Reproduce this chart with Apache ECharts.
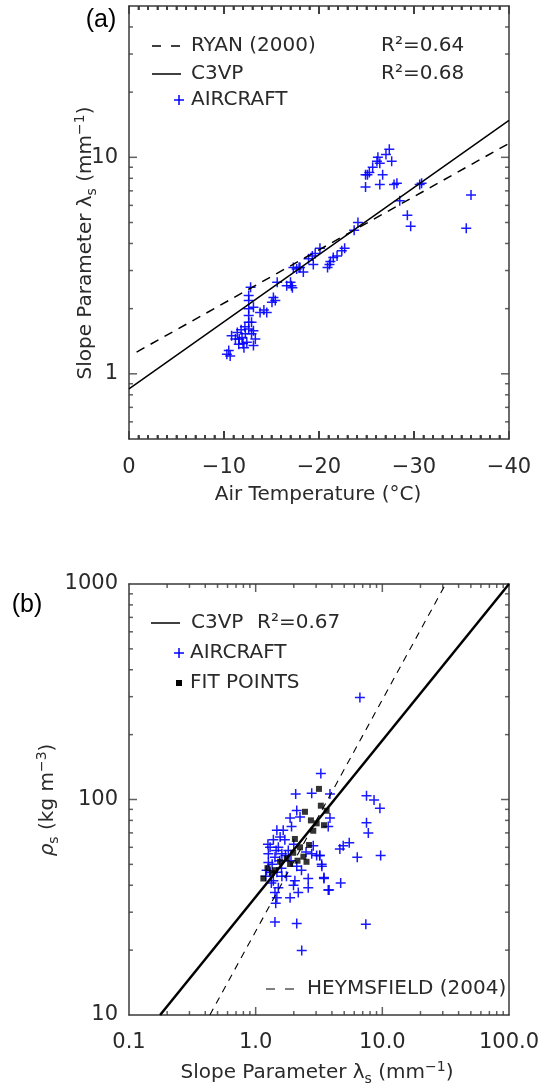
<!DOCTYPE html>
<html><head><meta charset="utf-8">
<script src="https://cdn.jsdelivr.net/npm/echarts@6/dist/echarts.min.js"></script>
<style>html,body{margin:0;padding:0;background:#fff}#c{width:545px;height:1091px}</style>
</head><body><div id="c"></div>
<script>
// ---------- Panel (a): slope parameter vs temperature ----------
const tempTicks = [0, -10, -20, -30, -40];
const tempMajorInner = [-10, -20, -30];
const tempMinor = [];
for (let t = -1; t > -40; t--) { if (t % 10 !== 0) tempMinor.push(t); }
const lambdaMajorA = [1, 10];
const lambdaMinorA = [0.6, 0.7, 0.8, 0.9, 2, 3, 4, 5, 6, 7, 8, 9, 20, 30, 40];
const aircraftA = [
  [-27.4,10.9],[-27.05,10.3],[-27.65,9.6],[-26.2,10.0],[-26.1,9.6],[-26.4,9.4],[-25.65,9.0],[-25.3,8.5],
  [-25.1,8.3],[-24.9,8.3],[-26.7,8.3],[-24.9,7.3],[-26.4,7.5],[-27.9,7.5],[-28.2,7.6],[-30.6,7.5],
  [-30.8,7.6],[-28.5,6.3],[-29.3,5.4],[-29.65,4.8],[-36.0,6.7],[-35.5,4.7],
  [-24.1,5.0],[-23.7,4.6],[-22.7,3.8],[-22.4,3.7],[-21.9,3.5],[-21.5,3.45],[-21.2,3.3],[-21.1,3.2],
  [-20.9,3.1],[-20.1,3.8],[-19.6,3.6],[-19.3,3.5],[-18.9,3.4],[-19.4,3.2],[-18.0,3.1],[-17.65,3.05],
  [-18.35,2.95],[-17.1,2.55],[-17.9,3.1],[-17.3,3.1],[-17.0,2.65],[-16.6,2.55],[-17.2,2.5],[-15.6,2.65],
  [-15.2,2.25],[-15.05,2.14],[-15.4,2.18],[-14.2,1.97],[-13.8,1.92],[-14.5,1.92],[-13.1,2.03],
  [-12.8,2.51],[-12.6,2.30],[-12.6,2.18],[-12.6,2.0],[-12.6,1.86],[-12.6,1.73],[-12.6,1.61],
  [-12.25,1.53],[-12.9,1.53],[-11.9,1.47],[-11.4,1.55],[-11.2,1.45],[-10.8,1.5],[-11.55,1.37],
  [-12.4,1.4],[-13.1,1.35],[-12.1,1.32],[-12.9,1.73],[-13.1,1.58],[-10.5,1.28],[-10.65,1.21],
  [-10.3,1.23],[-11.8,1.6],[-12.2,1.65],[-13.3,1.45],[-11.6,1.45],[-12.0,1.38]
];
const ryanLine = [[-0.8, 1.26], [-40, 11.6]];
const c3vpLineA = [[0, 0.853], [-40, 14.8]];

// ---------- Panel (b): density vs slope parameter ----------
const lambdaMajorB = [1, 10];
const lambdaMinorB = [0.2,0.3,0.4,0.5,0.6,0.7,0.8,0.9,2,3,4,5,6,7,8,9,20,30,40,50,60,70,80,90];
const rhoMajorB = [100];
const rhoMinorB = [20,30,40,50,60,70,80,90,200,300,400,500,600,700,800,900];
const aircraftB = [
  [3.27,132],[2.07,106],[2.77,107],[3.86,106],[2.11,89],[1.87,82],[1.92,75],[2.24,83],[3.86,82],
  [3.74,75],[1.47,72],[1.65,72],[1.56,67],[1.38,65],[1.70,65],[1.51,60],[1.30,60],[1.81,58],
  [1.26,56],[1.42,54],[1.61,56],[2.77,56],[3.03,55],[3.21,55],[2.85,61],[3.32,50],[2.11,49],
  [1.26,51],[1.30,46],[1.47,46],[1.61,44],[1.38,42],[2.04,42],[2.60,43],[3.46,43],[1.99,40],
  [1.51,39],[1.42,37],[2.17,37],[1.87,35],[1.47,35],[2.60,39],[3.74,38],[1.44,33],[1.42,27],
  [2.11,26.6],[2.31,19.9],
  [6.65,297],[7.5,104],[8.6,99.6],[9.57,91],[7.5,78],[7.75,70],[9.7,55],[6.34,54],[5.48,63],
  [4.91,61],[4.62,59],[4.69,41],[7.41,26.4],[3.33,49],[3.46,43.5],[3.8,38],[3.2,55],
  [1.22,47],[1.35,50],[1.25,62],[1.55,52],[1.45,58],[1.33,41],[1.6,48],[1.72,55],[1.2,44],
  [1.9,52],[2.3,47],[2.5,57],[2.0,62],[1.75,44]
];
const fitB = [
  [3.16,112],[3.27,93.6],[3.63,88.7],[2.45,87.7],[2.73,80],[3.03,77.5],[3.46,76],[2.85,71.6],
  [2.04,65.6],[2.64,61.5],[2.24,60],[1.98,56.6],[2.38,54.3],[1.76,53.3],[2.14,52],[2.52,51.4],
  [1.56,51.4],[1.87,50.2],[1.24,48],[1.34,45.7],[1.42,47],[1.15,43]
];
const c3vpLineB = [[0.176, 10], [100, 1000]];
const heymsLine = [[0.435, 10], [31.6, 1000]];

// ---------- styling ----------
const FONT = 'DejaVu Sans';
const TC = '#2a2a2a';
const AX = '#3a3a3a';
const PLUS = 'path://M4.25,0h1.5v4.25h4.25v1.5h-4.25v4.25h-1.5v-4.25h-4.25v-1.5h4.25z';
const isPow10 = v => Math.abs(Math.log10(v) - Math.round(Math.log10(v))) < 1e-6;

// inward tick marks, drawn as thin rect symbols at the frame edges
function yTickItems(xLeft, xRight, major, minor) {
  const out = [];
  const add = (v, len) => {
    out.push({ value: [xLeft, v], symbolSize: [len, 1.5], symbolOffset: [len / 2, 0] });
    out.push({ value: [xRight, v], symbolSize: [len, 1.5], symbolOffset: [-len / 2, 0] });
  };
  major.forEach(v => add(v, 8));
  minor.forEach(v => add(v, 4));
  return out;
}
function xTickItems(yBottom, yTop, major, minor) {
  const out = [];
  const add = (v, len) => {
    out.push({ value: [v, yBottom], symbolSize: [1.5, len], symbolOffset: [0, -len / 2] });
    out.push({ value: [v, yTop], symbolSize: [1.5, len], symbolOffset: [0, len / 2] });
  };
  major.forEach(v => add(v, 8));
  minor.forEach(v => add(v, 4));
  return out;
}
const tickSeries = (xi, yi, data) => ({ type: 'scatter', xAxisIndex: xi, yAxisIndex: yi, silent: true,
  symbol: 'rect', clip: false, itemStyle: { color: AX }, data: data, z: 5 });

const lab = () => ({ fontFamily: FONT, fontSize: 21, color: TC });

const tempAxis = (pos, showLabel) => ({
  type: 'value', gridIndex: 0, position: pos, min: -40, max: 0, interval: 10, inverse: true,
  axisLine: { show: true, onZero: false, lineStyle: { color: AX, width: 1.5 } },
  axisTick: { show: true, inside: true, length: 8, lineStyle: { color: AX, width: 1.5 } },
  minorTick: { show: true, splitNumber: 10, length: 4, lineStyle: { color: AX, width: 1.5 } },
  splitLine: { show: false }, minorSplitLine: { show: false },
  axisLabel: Object.assign({ show: showLabel, margin: 18,
    formatter: v => tempTicks.indexOf(v) < 0 ? '' : (v === 0 ? '0' : '\u2212' + Math.abs(v)) }, lab())
});
const logAxis = (grid, pos, min, max, showLabel, fmt, margin) => ({
  type: 'log', logBase: 10, gridIndex: grid, position: pos, min: min, max: max,
  axisLine: { show: true, onZero: false, lineStyle: { color: AX, width: 1.5 } },
  axisTick: { show: false }, minorTick: { show: false },
  splitLine: { show: false }, minorSplitLine: { show: false },
  axisLabel: Object.assign({ show: showLabel, margin: margin, formatter: fmt, showMinLabel: true, showMaxLabel: true }, lab())
});
const yFmt = v => isPow10(v) ? String(Math.round(v)) : '';
const xFmtB = v => isPow10(v) ? Number(v).toFixed(1) : '';

const txt = (x, y, s, extra) => ({ type: 'text', x: x, y: y, silent: true,
  style: Object.assign({ text: s, fill: TC, fontFamily: FONT, fontSize: 20, align: 'left', verticalAlign: 'middle' }, extra || {}) });
const seg = (x1, y1, x2, y2, st) => ({ type: 'line', silent: true, shape: { x1, y1, x2, y2 }, style: Object.assign({ stroke: '#000', lineWidth: 1.5 }, st || {}) });
const plusMark = (cx, cy) => [seg(cx - 5, cy, cx + 5, cy, { stroke: '#0000ff', lineWidth: 1.5 }), seg(cx, cy - 5, cx, cy + 5, { stroke: '#0000ff', lineWidth: 1.5 })];
const richBase = { fill: TC, fontFamily: FONT, fontSize: 20, lineHeight: 26 };
const richSub = { fill: TC, fontFamily: FONT, fontSize: 14, lineHeight: 12, verticalAlign: 'bottom' };
const richSup = { fill: TC, fontFamily: FONT, fontSize: 14, lineHeight: 12, verticalAlign: 'top' };

const baseGraphic = [
  txt(101, 20, '(a)', { fontFamily: 'Liberation Sans', fontSize: 25, align: 'center', fill: '#000' }),
  txt(27, 605, '(b)', { fontFamily: 'Liberation Sans', fontSize: 25, align: 'center', fill: '#000' }),
  // panel (a) legend
  seg(152, 46, 181, 46, { lineDash: [9, 10] }),
  txt(191, 46, 'RYAN (2000)'),
  txt(381, 46, 'R\u00b2=0.64'),
  seg(152, 74, 181, 74),
  txt(191, 74, 'C3VP'),
  txt(381, 74, 'R\u00b2=0.68'),
  ...plusMark(179, 100),
  txt(191, 100, 'AIRCRAFT'),
  // panel (b) legend
  seg(151, 623, 180, 623),
  txt(191, 623, 'C3VP'),
  txt(257, 623, 'R\u00b2=0.67'),
  ...plusMark(179, 653),
  txt(190, 653, 'AIRCRAFT'),
  { type: 'rect', silent: true, shape: { x: 176, y: 680, width: 6, height: 6 }, style: { fill: '#000' } },
  txt(190, 683, 'FIT POINTS'),
  seg(266, 989, 294, 989, { lineWidth: 1.2, lineDash: [9, 10] }),
  txt(307, 989, 'HEYMSFIELD (2004)'),
  // axis titles
  txt(318, 495, 'Air Temperature (\u00b0C)', { align: 'center' }),
  { type: 'text', x: 317, y: 1073, silent: true, style: {
    text: '{t|Slope Parameter \u03bb}{s|s}{t| (mm}{p|\u22121}{t|)}', align: 'center', verticalAlign: 'middle',
    rich: { t: richBase, s: richSub, p: richSup } } },
  { type: 'text', x: 86, y: 243, rotation: Math.PI / 2, silent: true, style: {
    text: '{t|Slope Parameter \u03bb}{s|s}{t| (mm}{p|\u22121}{t|)}', align: 'center', verticalAlign: 'middle',
    rich: { t: richBase, s: richSub, p: richSup } } },
  { type: 'text', x: 48, y: 800, rotation: Math.PI / 2, silent: true, style: {
    text: '{i|\u03c1}{s|s}{t| (kg m}{p|\u22123}{t|)}', align: 'center', verticalAlign: 'middle',
    rich: { t: richBase, s: richSub, p: richSup, i: Object.assign({}, richBase, { fontStyle: 'italic' }) } } }
];

const chart = echarts.init(document.getElementById('c'), null, { renderer: 'canvas' });
chart.setOption({
  animation: false,
  backgroundColor: '#fff',
  grid: [
    { left: 129, top: 6, width: 380, height: 433 },
    { left: 129, top: 584, width: 380, height: 431 }
  ],
  xAxis: [
    tempAxis('bottom', true),
    tempAxis('top', false),
    logAxis(1, 'bottom', 0.1, 100, true, xFmtB, 17),
    logAxis(1, 'top', 0.1, 100, false, xFmtB, 17)
  ],
  yAxis: [
    logAxis(0, 'left', 0.5, 50, true, yFmt, 11),
    logAxis(0, 'right', 0.5, 50, false, yFmt, 11),
    logAxis(1, 'left', 10, 1000, true, yFmt, 11),
    logAxis(1, 'right', 10, 1000, false, yFmt, 11)
  ],
  series: [
    tickSeries(0, 0, yTickItems(0, -40, lambdaMajorA, lambdaMinorA)),
    tickSeries(0, 0, xTickItems(0.5, 50, tempMajorInner, tempMinor)),
    tickSeries(2, 2, yTickItems(0.1, 100, rhoMajorB, rhoMinorB)),
    tickSeries(2, 2, xTickItems(10, 1000, lambdaMajorB, lambdaMinorB)),

    { name: 'AIRCRAFT', type: 'scatter', xAxisIndex: 0, yAxisIndex: 0, data: aircraftA,
      symbol: PLUS, symbolSize: 10, itemStyle: { color: '#0000ff', opacity: 0.9 } },
    { name: 'RYAN (2000)', type: 'line', xAxisIndex: 0, yAxisIndex: 0, data: ryanLine, showSymbol: false,
      lineStyle: { color: '#000', width: 1.5, type: [9, 7] } },
    { name: 'C3VP', type: 'line', xAxisIndex: 0, yAxisIndex: 0, data: c3vpLineA, showSymbol: false,
      lineStyle: { color: '#000', width: 1.5 } },

    { name: 'AIRCRAFT b', type: 'scatter', xAxisIndex: 2, yAxisIndex: 2, data: aircraftB,
      symbol: PLUS, symbolSize: 10, itemStyle: { color: '#0000ff', opacity: 0.9 } },
    { name: 'FIT POINTS', type: 'scatter', xAxisIndex: 2, yAxisIndex: 2, data: fitB,
      symbol: 'rect', symbolSize: 6, itemStyle: { color: '#000' } },
    { name: 'HEYMSFIELD (2004)', type: 'line', xAxisIndex: 2, yAxisIndex: 2, data: heymsLine, showSymbol: false,
      clip: true, lineStyle: { color: '#000', width: 1.1, type: [7, 6] } },
    { name: 'C3VP b', type: 'line', xAxisIndex: 2, yAxisIndex: 2, data: c3vpLineB, showSymbol: false,
      clip: true, lineStyle: { color: '#000', width: 2.5 } }
  ],
  graphic: baseGraphic
});

// Temperature-axis ticks, positioned through the chart's own scale
const tempTickGraphic = [];
const addTempTick = (t, len) => {
  const pb = chart.convertToPixel({ xAxisIndex: 0, yAxisIndex: 0 }, [t, 0.5]);
  const pt = chart.convertToPixel({ xAxisIndex: 0, yAxisIndex: 0 }, [t, 50]);
  if (!pb || !pt) return;
  tempTickGraphic.push({ type: 'line', silent: true, z: 10, shape: { x1: pb[0], y1: pb[1], x2: pb[0], y2: pb[1] - len }, style: { stroke: AX, lineWidth: 1.5 } });
  tempTickGraphic.push({ type: 'line', silent: true, z: 10, shape: { x1: pt[0], y1: pt[1], x2: pt[0], y2: pt[1] + len }, style: { stroke: AX, lineWidth: 1.5 } });
};
tempMajorInner.forEach(t => addTempTick(t, 8));
tempMinor.forEach(t => addTempTick(t, 4));
chart.setOption({ graphic: baseGraphic.concat(tempTickGraphic) });
</script>
</body></html>
